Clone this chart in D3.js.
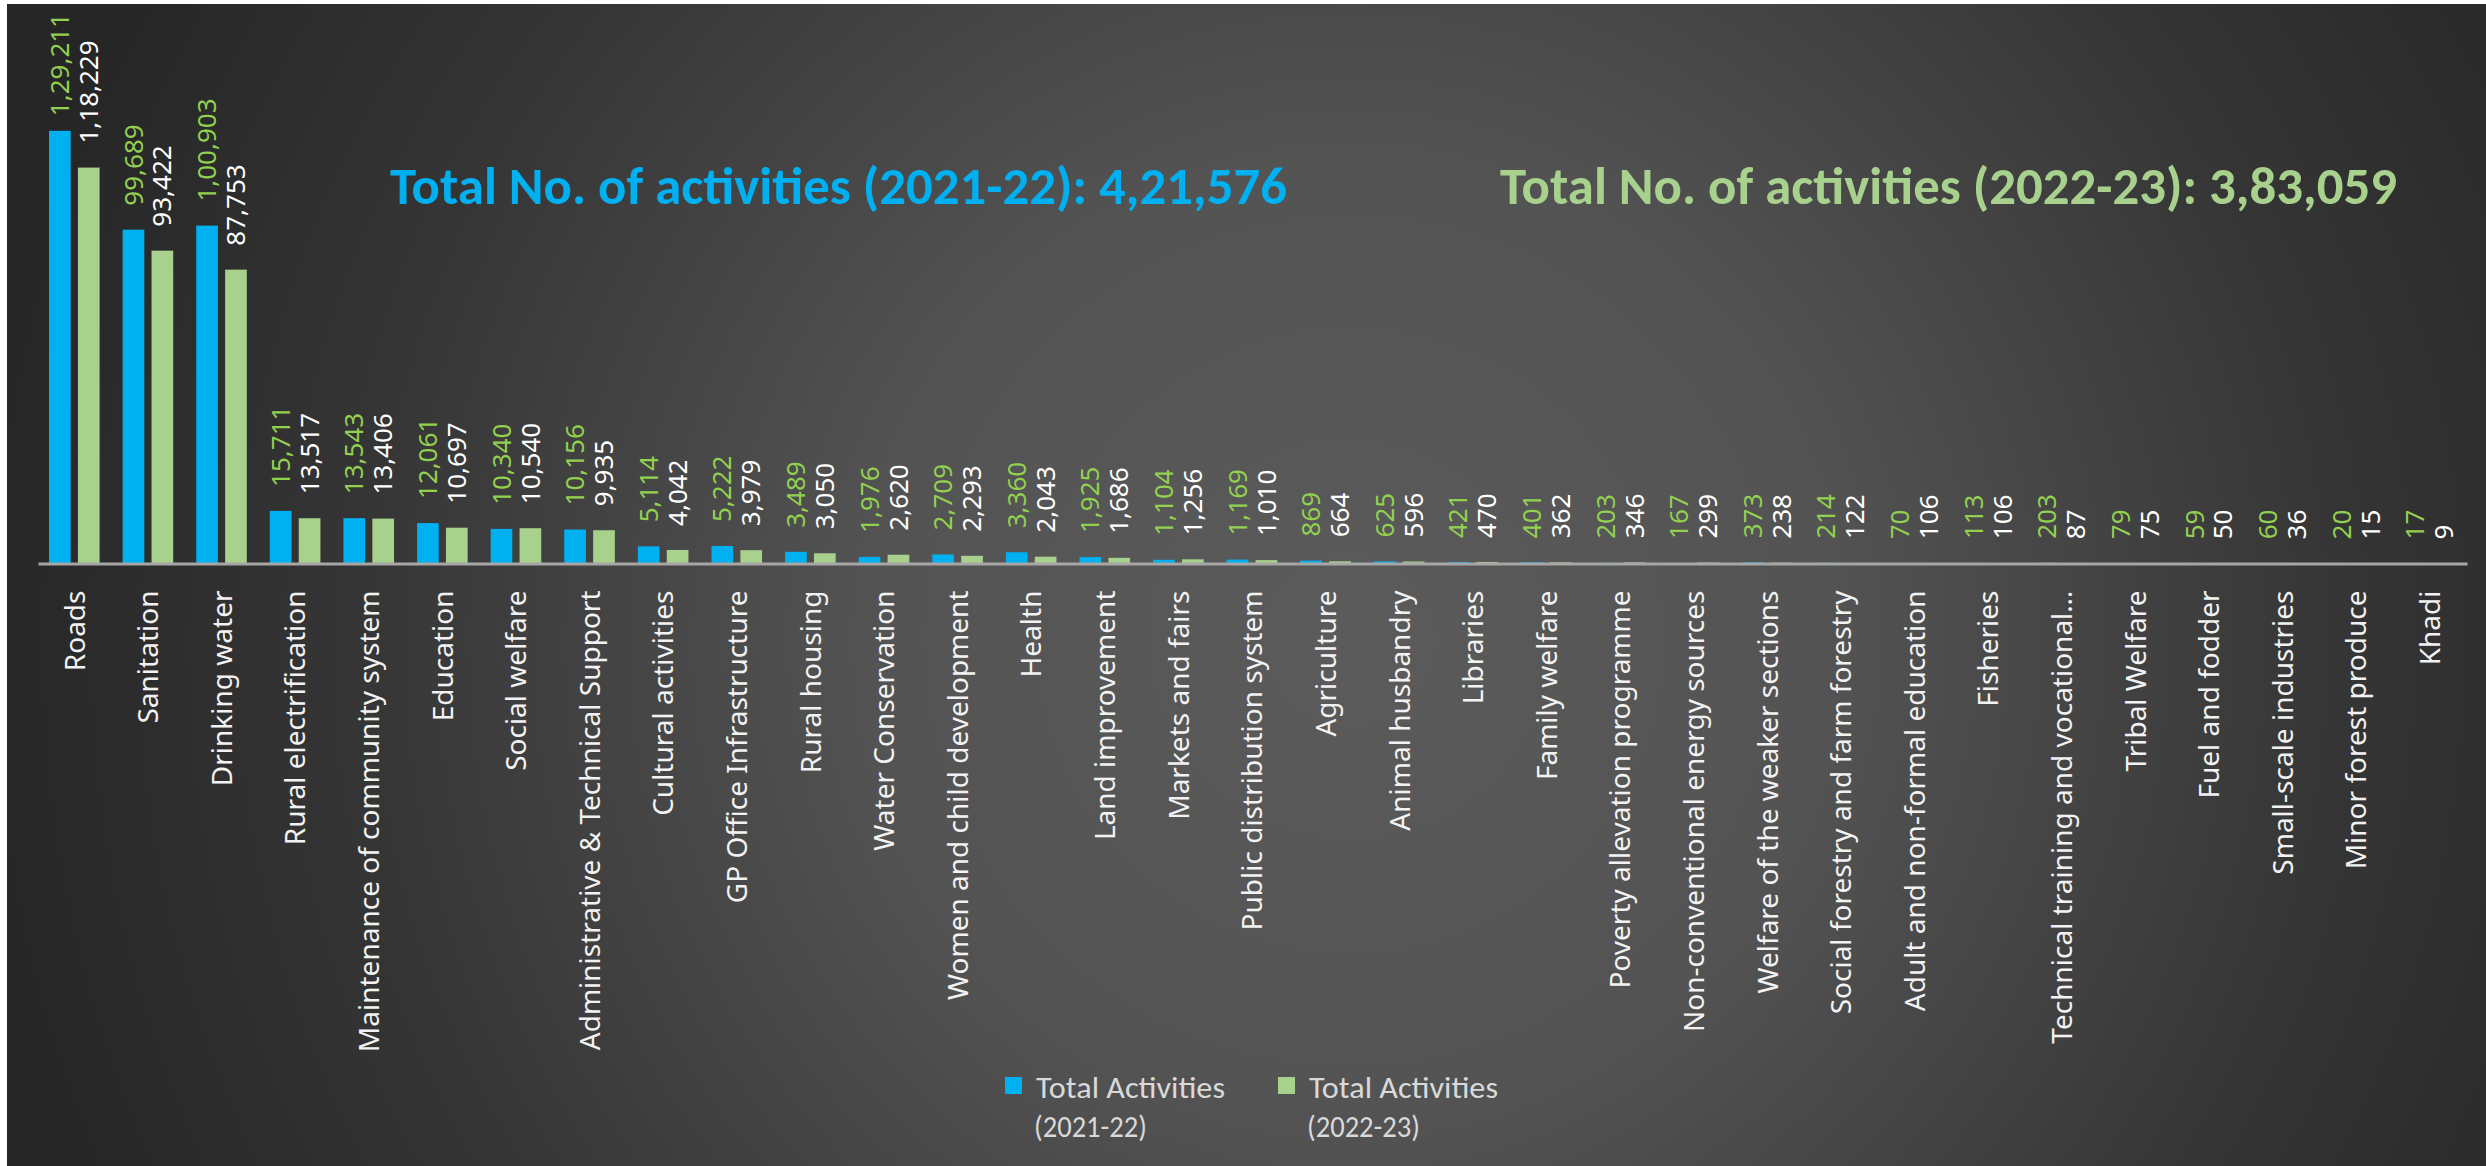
<!DOCTYPE html>
<html>
<head>
<meta charset="utf-8">
<script src="https://cdn.jsdelivr.net/npm/d3@7"></script>
<style>
  html, body { margin: 0; padding: 0; background: #ffffff; }
  svg { display: block; }
</style>
</head>
<body>
<svg id="chart"></svg>
<script>
// categories, in the order they appear on the x axis
const categories = [
  "Roads", "Sanitation", "Drinking water", "Rural electrification",
  "Maintenance of community system", "Education", "Social welfare",
  "Administrative & Technical Support", "Cultural activities",
  "GP Office Infrastructure", "Rural housing", "Water Conservation",
  "Women and child development", "Health", "Land improvement",
  "Markets and fairs", "Public distribution system", "Agriculture",
  "Animal husbandry", "Libraries", "Family welfare",
  "Poverty allevation programme", "Non-conventional energy sources",
  "Welfare of the weaker sections", "Social forestry and farm forestry",
  "Adult and non-formal education", "Fisheries",
  "Technical training and vocational…", "Tribal Welfare", "Fuel and fodder",
  "Small-scale industries", "Minor forest produce", "Khadi"
];

const activities2122 = [
  129211, 99689, 100903, 15711, 13543, 12061, 10340, 10156, 5114, 5222,
  3489, 1976, 2709, 3360, 1925, 1104, 1169, 869, 625, 421, 401, 203, 167,
  373, 214, 70, 113, 203, 79, 59, 60, 20, 17
];

const activities2223 = [
  118229, 93422, 87753, 13517, 13406, 10697, 10540, 9935, 4042, 3979,
  3050, 2620, 2293, 2043, 1686, 1256, 1010, 664, 596, 470, 362, 346, 299,
  238, 122, 106, 106, 87, 75, 50, 36, 15, 9
];

const seriesNames = ["Total Activities (2021-22)", "Total Activities (2022-23)"];
const seriesYears = ["2021-22", "2022-23"];
const yDomain = [0, 140000];

const W = 2486, H = 1166;
const barColors = ["#00b0f0", "#a9d18e"];
const labelColors = ["#92d050", "#ffffff"];
const titleColors = ["#00b0f0", "#a9d18e"];

// Indian digit grouping: 1,29,211
function fmtIndian(n) {
  const s = String(Math.round(n));
  if (s.length <= 3) return s;
  const last3 = s.slice(-3);
  const rest = s.slice(0, -3).replace(/\B(?=(\d{2})+(?!\d))/g, ",");
  return rest + "," + last3;
}

const series = [activities2122, activities2223];
const data = categories.map((c, i) => ({
  name: c,
  values: series.map((s, k) => ({ key: k, value: s[i] }))
}));

const svg = d3.select("#chart").attr("width", W).attr("height", H);

// background
const defs = svg.append("defs");
const grad = defs.append("radialGradient")
  .attr("id", "bg")
  .attr("gradientUnits", "userSpaceOnUse")
  .attr("cx", 1350).attr("cy", 640).attr("r", 1380);
grad.append("stop").attr("offset", "0").attr("stop-color", "#5b5b5b");
grad.append("stop").attr("offset", "0.35").attr("stop-color", "#535353");
grad.append("stop").attr("offset", "0.72").attr("stop-color", "#353535");
grad.append("stop").attr("offset", "1").attr("stop-color", "#262626");

svg.append("rect").attr("x", 0).attr("y", 0).attr("width", W).attr("height", H).attr("fill", "#ffffff");
svg.append("rect").attr("x", 7).attr("y", 4).attr("width", W - 7).attr("height", H - 4).attr("fill", "url(#bg)");

// scales
const baseY = 563.5;
const x0 = d3.scaleBand()
  .domain(categories)
  .range([38, 2467])
  .padding(0);

const x1 = d3.scaleBand()
  .domain([0, 1])
  .range([11, x0.bandwidth() - 12])
  .paddingInner(0.25);

const y = d3.scaleLinear()
  .domain(yDomain)
  .range([baseY, baseY - 0.0033487 * yDomain[1]]);

const chart = svg.append("g");

const groups = chart.selectAll("g.cat")
  .data(data)
  .enter()
  .append("g")
  .attr("class", "cat")
  .attr("transform", d => `translate(${x0(d.name)},0)`);

groups.selectAll("rect")
  .data(d => d.values)
  .enter()
  .append("rect")
  .attr("x", d => x1(d.key))
  .attr("y", d => y(d.value))
  .attr("width", x1.bandwidth())
  .attr("height", d => baseY - y(d.value))
  .attr("fill", d => barColors[d.key]);

// value labels, rotated
const labelFont = "'Noto Sans', 'Open Sans', sans-serif";
groups.selectAll("text.val")
  .data(d => d.values)
  .enter()
  .append("text")
  .attr("class", "val")
  .attr("font-family", labelFont)
  .attr("font-size", 26)
  .attr("fill", d => labelColors[d.key])
  .attr("text-anchor", "start")
  .attr("dy", "0.35em")
  .text(d => fmtIndian(d.value))
  .each(function (d) {
    const len = this.getComputedTextLength();
    const yy = Math.max(y(d.value) - 24, 13 + len);
    const xx = x1(d.key) + x1.bandwidth() / 2;
    d3.select(this).attr("transform", `translate(${xx},${yy}) rotate(-90)`);
  });

// x axis
const xAxis = d3.axisBottom(x0).tickSize(0).tickSizeOuter(0);
const axisG = chart.append("g")
  .attr("transform", `translate(0,${baseY})`)
  .call(xAxis);

axisG.select(".domain")
  .attr("stroke", "#a6a6a6")
  .attr("stroke-width", 3);

axisG.selectAll(".tick text")
  .attr("font-family", labelFont)
  .attr("font-size", 28)
  .attr("fill", "#f2f2f2")
  .attr("text-anchor", "end")
  .attr("transform", "rotate(-90)")
  .attr("x", -27)
  .attr("y", 0)
  .attr("dy", "0.35em");

// totals in the header
const narrowFont = "Carlito, Calibri, Lato, sans-serif";
const titleX = [390, 1500];
series.forEach((s, k) => {
  svg.append("text")
    .attr("x", titleX[k])
    .attr("y", 204)
    .attr("font-family", narrowFont)
    .attr("font-weight", "bold")
    .attr("font-size", 52)
    .attr("fill", titleColors[k])
    .attr("textLength", 897)
    .attr("lengthAdjust", "spacingAndGlyphs")
    .text(`Total No. of activities (${seriesYears[k]}): ${fmtIndian(d3.sum(s))}`);
});

// legend
const legend = svg.append("g").attr("transform", "translate(1005,1077)");
const items = legend.selectAll("g")
  .data(seriesNames)
  .enter()
  .append("g")
  .attr("transform", (d, i) => `translate(${i * 273},0)`);

items.append("rect")
  .attr("width", 17)
  .attr("height", 17)
  .attr("fill", (d, i) => barColors[i]);

const legText = items.append("text")
  .attr("font-family", narrowFont)
  .attr("font-size", 31)
  .attr("fill", "#d9d9d9");

legText.append("tspan")
  .attr("x", 31).attr("y", 21)
  .attr("textLength", 189)
  .attr("lengthAdjust", "spacingAndGlyphs")
  .text(d => d.slice(0, d.lastIndexOf(" ")));
legText.append("tspan")
  .attr("x", 29).attr("y", 60)
  .attr("textLength", 113)
  .attr("lengthAdjust", "spacingAndGlyphs")
  .text(d => d.slice(d.lastIndexOf(" ") + 1));
</script>
</body>
</html>
